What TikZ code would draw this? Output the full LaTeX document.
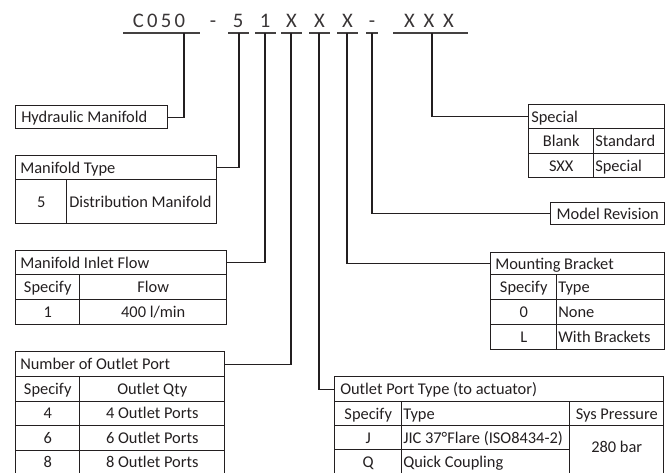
\documentclass[tikz,border=0pt]{standalone}
\usepackage{fontspec}
\setmainfont{Carlito}
\definecolor{ink}{RGB}{35,31,32}
\newcommand\cellL[7]{%
  \node[cellbox, minimum width={(#4-#2)*0.75pt}, minimum height={(#5-#3)*0.75pt}, anchor=north west] (#1) at (#2,#3) {};
  \node[celltext, anchor=west] (#1t) at ([xshift={#6*0.75pt}]#1.west) {#7};}
\newcommand\cellC[6]{%
  \node[cellbox, minimum width={(#4-#2)*0.75pt}, minimum height={(#5-#3)*0.75pt}, anchor=north west] (#1) at (#2,#3) {#6};}
\begin{document}
\begin{tikzpicture}[x=0.75pt,y=-0.75pt,
  cellbox/.style={draw=ink, line width=1.1pt, inner sep=0pt, font=\fontsize{12.3}{14}\selectfont, text=ink, text height=8pt, text depth=0pt},
  celltext/.style={inner sep=0pt, font=\fontsize{12.3}{14}\selectfont, text=ink, text height=8pt, text depth=0pt},
  conn/.style={draw=ink, line width=1pt},
  uline/.style={draw=ink!85, line width=1pt},
  code/.style={font=\fontsize{15.5}{18}\selectfont, text=ink!90, inner sep=0pt, anchor=base}]
\useasboundingbox (0,0) rectangle (667,472);

% ---- code line ----
\node[code] (tC) at (159,27.5) {C\kern2.4pt 0\kern2.4pt 5\kern2.4pt 0};
\node[code] (tD1) at (213,27.5) {-};
\node[code] (t5) at (238,27.5) {5};
\node[code] (t1) at (265,27.5) {1};
\node[code] (tX1) at (291.5,27.5) {X};
\node[code] (tX2) at (319.5,27.5) {X};
\node[code] (tX3) at (347.5,27.5) {X};
\node[code] (tD2) at (372,27.5) {-};
\node[code] (tXXX) at (429,27.5) {X\kern6.5pt X\kern6.5pt X};

\coordinate (uCa) at (123,33); \coordinate (uCb) at (200,33); \coordinate (sC) at (184,33);
\coordinate (u5a) at (228,33); \coordinate (u5b) at (249,33); \coordinate (s5) at (239,33);
\coordinate (u1a) at (255,33); \coordinate (u1b) at (276,33); \coordinate (s1) at (265,33);
\coordinate (uX1a) at (281,33); \coordinate (uX1b) at (302,33); \coordinate (sX1) at (291,33);
\coordinate (uX2a) at (309,33); \coordinate (uX2b) at (330,33); \coordinate (sX2) at (319,33);
\coordinate (uX3a) at (337,33); \coordinate (uX3b) at (358,33); \coordinate (sX3) at (347,33);
\coordinate (uDa) at (366,33); \coordinate (uDb) at (378,33); \coordinate (sD) at (372,33);
\coordinate (uXa) at (393,33); \coordinate (uXb) at (468,33); \coordinate (sXXX) at (432,33);
\draw[uline] (uCa) -- (uCb);
\draw[uline] (u5a) -- (u5b);
\draw[uline] (u1a) -- (u1b);
\draw[uline] (uX1a) -- (uX1b);
\draw[uline] (uX2a) -- (uX2b);
\draw[uline] (uX3a) -- (uX3b);
\draw[uline] (uDa) -- (uDb);
\draw[uline] (uXa) -- (uXb);

% ---- left tables ----
\cellL{hm}{15}{105}{167}{128}{6}{Hydraulic Manifold}

\cellL{mt}{15}{155}{216}{179}{5}{Manifold Type}
\cellC{mta}{15}{179}{66}{223}{5}
\cellL{mtb}{66}{179}{216}{223}{3}{Distribution Manifold}

\cellL{if}{15}{250}{226}{274}{5}{Manifold Inlet Flow}
\cellC{ifa}{15}{274}{79}{299}{Specify}
\cellC{ifb}{79}{274}{226}{299}{Flow}
\cellC{ifc}{15}{299}{79}{324}{1}
\cellC{ifd}{79}{299}{226}{324}{400 l/min}

\cellL{no}{15}{351}{224}{376}{5}{Number of Outlet Port}
\cellC{noa}{15}{376}{79}{400.5}{Specify}
\cellC{nob}{79}{376}{224}{400.5}{Outlet Qty}
\cellC{noc}{15}{400.5}{79}{425}{4}
\cellC{nod}{79}{400.5}{224}{425}{4 Outlet Ports}
\cellC{noe}{15}{425}{79}{449.5}{6}
\cellC{nof}{79}{425}{224}{449.5}{6 Outlet Ports}
\cellC{nog}{15}{449.5}{79}{474}{8}
\cellC{noh}{79}{449.5}{224}{474}{8 Outlet Ports}

% ---- right tables ----
\cellL{sp}{528}{104}{664}{128}{3}{Special}
\cellC{spa}{528}{128}{593}{153}{Blank}
\cellL{spb}{593}{128}{664}{153}{2}{Standard}
\cellC{spc}{528}{153}{593}{177}{SXX}
\cellL{spd}{593}{153}{664}{177}{2}{Special}

\cellC{mr}{550}{202}{664}{224}{Model Revision}

\cellL{mb}{490}{252}{664}{274}{5}{Mounting Bracket}
\cellC{mba}{490}{274}{556}{299}{Specify}
\cellL{mbb}{556}{274}{664}{299}{2}{Type}
\cellC{mbc}{490}{299}{556}{324}{0}
\cellL{mbd}{556}{299}{664}{324}{2}{None}
\cellC{mbe}{490}{324}{556}{349}{L}
\cellL{mbf}{556}{324}{664}{349}{2}{With Brackets}

\cellL{op}{334}{376}{663}{401}{6}{Outlet Port Type (to actuator)}
\cellC{opa}{334}{401}{401}{425}{Specify}
\cellL{opb}{401}{401}{569}{425}{2}{Type}
\cellC{opc}{569}{401}{663}{425}{Sys Pressure}
\cellC{opd}{334}{425}{401}{449}{J}
\cellL{ope}{401}{425}{569}{449}{2}{JIC 37°Flare (ISO8434-2)}
\cellC{opf}{334}{449}{401}{474}{Q}
\cellL{opg}{401}{449}{569}{474}{2}{Quick Coupling}
\cellC{oph}{569}{425}{663}{474}{}
\node[celltext] (opht) at ([yshift=2.5pt]oph.center) {280 bar};

% ---- connectors ----
\draw[conn] (hm.east) -| (sC);
\draw[conn] (mt.east) -| (s5);
\draw[conn] (if.east) -| (s1);
\draw[conn] (no.east) -| (sX1);
\draw[conn] (op.west) -| (sX2);
\draw[conn] (mb.west) -| (sX3);
\draw[conn] (mr.west) -| (sD);
\draw[conn] (sp.west) -| (sXXX);
\end{tikzpicture}
\end{document}
